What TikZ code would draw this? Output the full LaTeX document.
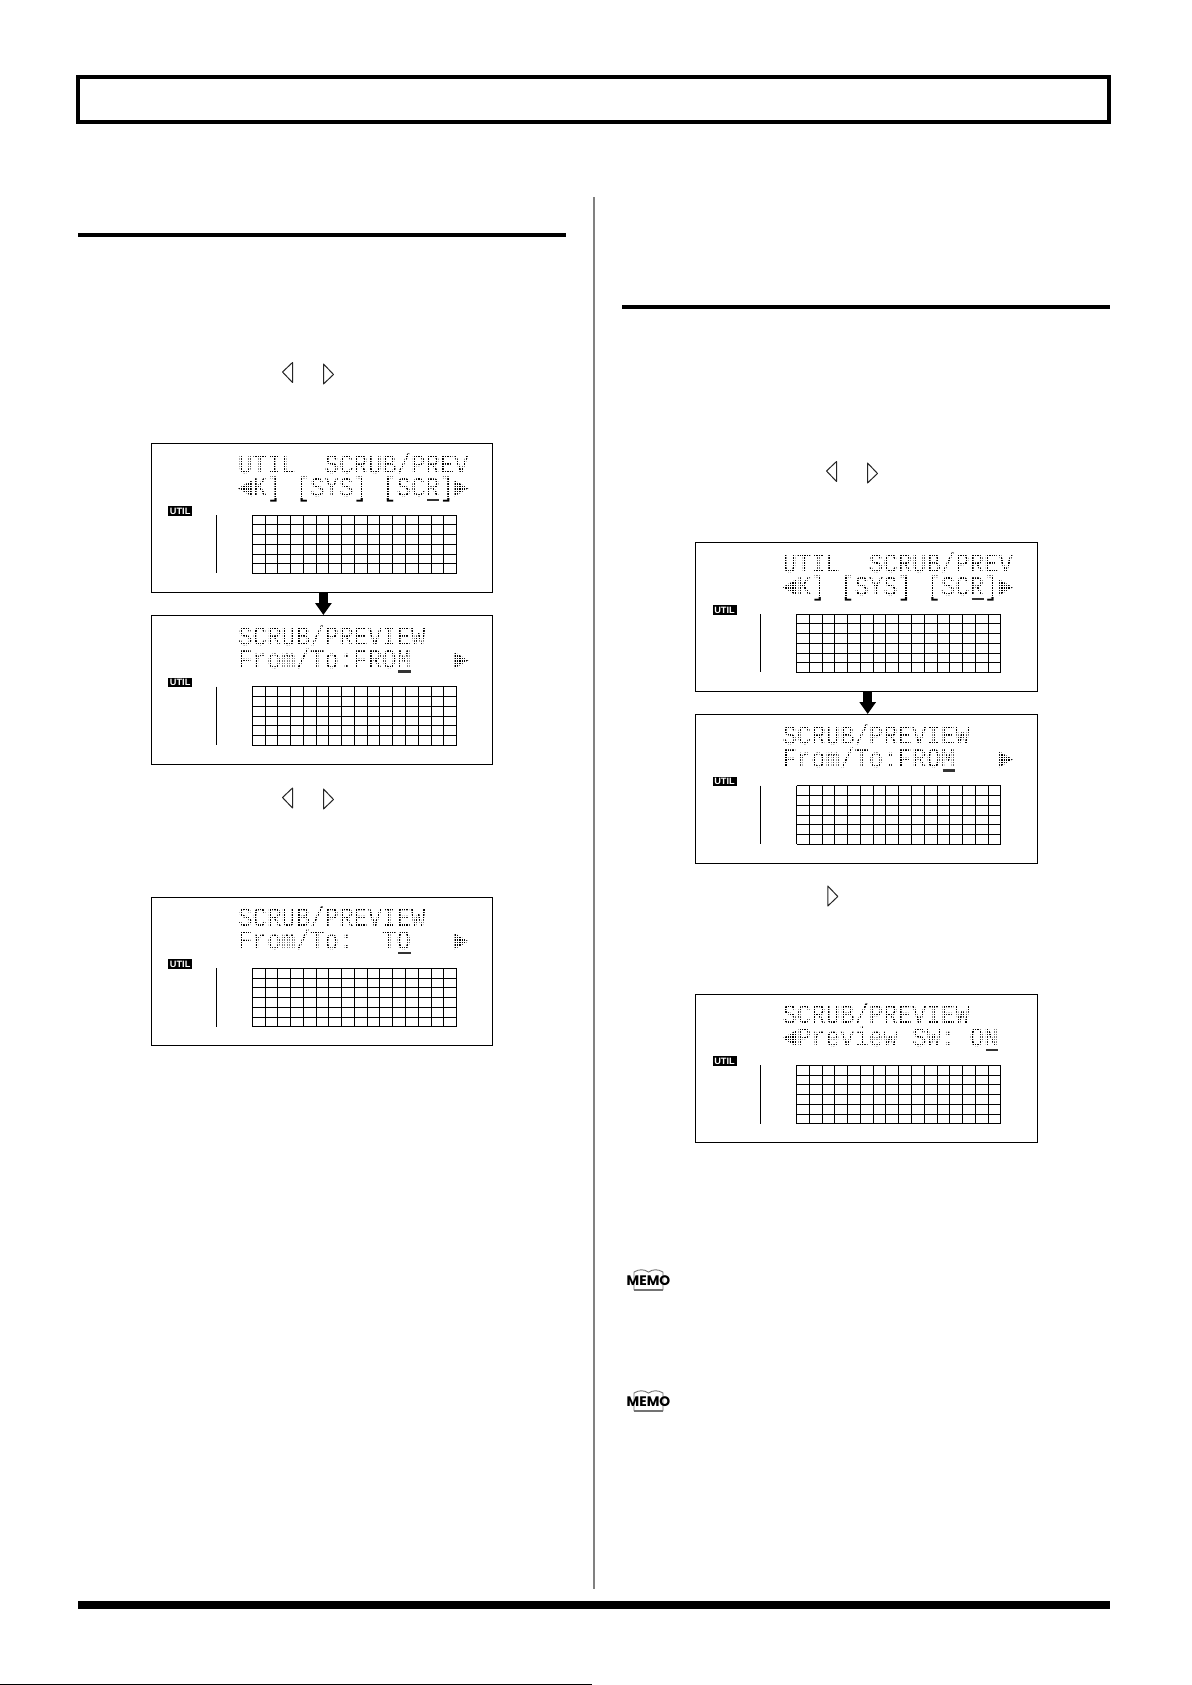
\documentclass[tikz,border=0pt]{standalone}
\usepackage{fontspec}
\usetikzlibrary{arrows.meta}
\newfontfamily\lcdfont[FakeStretch=0.889]{Liberation Mono}
\newfontfamily\iconfont{Liberation Sans}
\newfontfamily\memofont{Poppins}
\tikzset{
	lcdbox/.style={draw, line width=1pt, minimum width=341.4pt, minimum height=148.6pt, inner sep=0pt, anchor=north west},
	lcdtext/.style={anchor=base west, inner sep=0pt, text height=17pt, text depth=0pt, text=black, font=\lcdfont\fontsize{27pt}{27pt}\selectfont},
	lcddot/.style={white, line width=0.36pt, line cap=butt},
	lcdline/.style={line width=0.9pt, line cap=butt},
	lcdcursor/.style={line width=2.2pt, black!80},
	heavyrule/.style={line width=4.3pt},
	flowarrow/.style={line width=9.4pt, -{Triangle[width=16pt,length=12pt]}},
	keytri/.style={line width=1pt, line join=round, black!85},
	utilbadge/.style={fill=black, text=white, inner sep=0pt, minimum width=24pt, minimum height=9.6pt, anchor=north west, font=\iconfont\bfseries\fontsize{9.2pt}{9.2pt}\selectfont},
	memotext/.style={inner sep=0pt, font=\memofont\bfseries\fontsize{13.8pt}{13.8pt}\selectfont}
}
% panel: name, left, top, first line, second line, cursor column
\newcommand{\lcdpanel}[6]{
	\node[lcdbox] (#1) at (#2,#3) {};
	\begin{scope}[shift={(#2,#3)}]
		\node[lcdtext] (#1top) at (87,30) {#4};
		\node[lcdtext] (#1bot) at (87,53) {#5};
		% white lines break the text into dots
		\foreach \c in {0,...,95}
		\draw[lcddot] ({86.6+\c*2.4},11) -- ({86.6+\c*2.4},55);
		\foreach \r in {0,...,17}
		\draw[lcddot] (85,{11.7+\r*2.5}) -- (325,{11.7+\r*2.5});
		\draw[lcdcursor] ({89+#6*14.4},56.5) -- ++(12.2,0);
		\node[utilbadge] (#1util) at (17,62.6) {UTIL};
		\draw[lcdline] (65,71.7) -- (65,130);
		\foreach \c in {0,...,16}
		\draw[lcdline] ({101.2+\c*12.77},71.7) -- ({101.2+\c*12.77},130.2);
		\foreach \r in {0,...,6}
		\draw[lcdline] (101.2,{71.7+\r*9.75}) -- (305.5,{71.7+\r*9.75});
	\end{scope}
}
\newcommand{\lefttri}[2]{
	\draw[keytri] (#1,#2) -- ++(0,20) -- ++(-10,-10.5) -- cycle;
}
\newcommand{\righttri}[2]{
	\draw[keytri] (#1,#2) -- ++(0,20) -- ++(10,-9.5) -- cycle;
}
\newcommand{\memoicon}[3]{
	\begin{scope}[shift={(#2,#3)}]
		\draw[black!55, line width=0.9pt] (8,21) -- (8,3) .. controls (13,0) and (18,0) .. (22.5,3) .. controls (27,0) and (32,0) .. (37,3) -- (37,21);
		\draw[black!55, line width=2pt] (8,21.3) -- (37,21.3);
		\node[memotext] (#1) at (22.5,11.5) {MEMO};
	\end{scope}
}
\begin{document}
\begin{tikzpicture}[x=1pt,y=-1pt,>=stealth]
	\useasboundingbox (0,0) rectangle (1191,1685);
	\fill[white] (0,0) rectangle (1191,1685);
	\draw[line width=4pt] (77.5,77) rectangle (1108.5,122);
	\draw[heavyrule] (78,234.8) -- (565.6,234.8);
	\draw[heavyrule] (622,306.8) -- (1110,306.8);
	\draw[black!50, line width=1.8pt] (594,197.5) -- (594,1589);
	% left column
	\lefttri{292.5}{362.5}
	\righttri{323.5}{364}
	\lcdpanel{lcdA}{151}{443.4}{UTIL~~SCRUB/PREV}{◄K]~[SYS]~[SCR]►}{13}
	\lcdpanel{lcdB}{151}{615}{SCRUB/PREVIEW}{From/To:FROM~~~►}{11}
	\draw[flowarrow] ([xshift=1.2pt]lcdA.south) -- ([xshift=1.2pt]lcdB.north);
	\lefttri{292.5}{788}
	\righttri{323.5}{789}
	\lcdpanel{lcdC}{151}{896.6}{SCRUB/PREVIEW}{From/To:~~TO~~~►}{11}
	% right column
	\lefttri{836.5}{461.5}
	\righttri{867.5}{463}
	\lcdpanel{lcdD}{695.3}{542.4}{UTIL~~SCRUB/PREV}{◄K]~[SYS]~[SCR]►}{13}
	\lcdpanel{lcdE}{695.3}{714}{SCRUB/PREVIEW}{From/To:FROM~~~►}{11}
	\draw[flowarrow] ([xshift=1.2pt]lcdD.south) -- ([xshift=1.2pt]lcdE.north);
	\righttri{827.8}{886}
	\lcdpanel{lcdF}{695.3}{993.6}{SCRUB/PREVIEW}{◄Preview~SW:~ON}{14}
	\memoicon{memoA}{626}{1269}
	\memoicon{memoB}{626}{1390}
	% bottom
	\fill[black] (78,1601) rectangle (1110,1609);
	\draw[line width=1pt] (0,1684.5) -- (592,1684.5);
\end{tikzpicture}
\end{document}
